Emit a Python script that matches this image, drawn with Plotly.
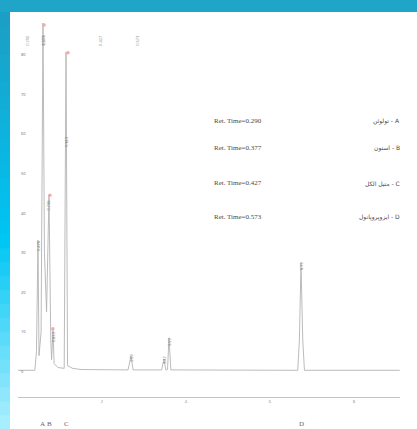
import plotly.graph_objects as go

# ---- data ----
times = [0.0, 0.40, 0.44, 0.476, 0.50, 0.55, 0.595, 0.63, 0.68, 0.738, 0.78, 0.80, 0.833, 0.86,
         0.95, 1.10, 1.143, 1.18, 1.30, 1.50, 2.62, 2.69, 2.74, 3.42, 3.476, 3.52, 3.56, 3.595,
         3.64, 6.66, 6.70, 6.738, 6.78, 6.82, 9.09]
signal = [0.3, 0.3, 5, 33.2, 4, 10, 88, 30, 15, 44.6, 8, 3, 10.5, 2,
          1, 0.8, 80.7, 1.5, 0.8, 0.5, 0.4, 3.9, 0.4, 0.4, 3.2, 0.4, 0.5, 8.5,
          0.4, 0.3, 8, 27.4, 8, 0.3, 0.3]

peak_times = [0.476, 0.595, 0.738, 0.833, 1.143, 2.69, 3.476, 3.595, 6.738]
peak_label_y = [30.0, 82.0, 40.0, 7.0, 56.0, 2.0, 1.5, 6.0, 25.0]
peak_labels = ["0.476", "0.595", "0.738", "0.833", "1.143", "2.69", "3.47", "3.59", "6.73"]

top_label_times = [0.21, 0.595, 1.95, 2.83]
top_labels = ["0.290", "0.377", "0.427", "0.573"]

marker_times = [0.62, 1.19, 0.76, 0.83]
marker_vals = [87.5, 80.5, 44.5, 10.8]

ret_texts = ["Ret. Time=0.290", "Ret. Time=0.377", "Ret. Time=0.427", "Ret. Time=0.573"]
compound_texts = ["تولوئن - A", "استون - B", "متیل الکل - C", "ایزوپروپانول - D"]
row_pix_y = [121, 148, 183, 217]

bottom_letters = ["A", "B", "C", "D"]
bottom_times = [0.595, 0.738, 1.143, 6.738]

x_ticks = [0, 2, 4, 6, 8]
y_ticks = [0, 10, 20, 30, 40, 50, 60, 70, 80]

# ---- geometry ----
W, H = 417, 429
L, R, T, B = 18, 17, 18, 32
PW, PH = W - L - R, H - T - B


def px(xp):
    return (xp - L) / PW


def py(yp):
    return 1 - (yp - T) / PH


fig = go.Figure()
fig.add_trace(go.Scatter(x=times, y=signal, mode="lines",
                         line=dict(color="#b3b3b3", width=0.9), hoverinfo="skip"))
fig.add_trace(go.Scatter(x=marker_times, y=marker_vals, mode="markers",
                         marker=dict(color="#f5aaaa", size=3.5, line=dict(width=0)),
                         hoverinfo="skip"))

shapes = []
# top teal strip
shapes.append(dict(type="rect", xref="paper", yref="paper", x0=px(0), x1=px(W), y0=py(12), y1=py(0),
                   fillcolor="#1ea5c8", line=dict(width=0), layer="below"))
# left gradient strip
n = 30
c0 = (0x1c, 0x9f, 0xc6)
c1 = (0x00, 0xc6, 0xf4)
c2 = (0xa8, 0xee, 0xff)
for i in range(n):
    t = i / (n - 1)
    if t < 0.55:
        u = t / 0.55
        c = tuple(int(c0[k] + (c1[k] - c0[k]) * u) for k in range(3))
    else:
        u = (t - 0.55) / 0.45
        c = tuple(int(c1[k] + (c2[k] - c1[k]) * u) for k in range(3))
    y0 = 12 + (H - 12) * i / n
    y1 = 12 + (H - 12) * (i + 1) / n + 1
    shapes.append(dict(type="rect", xref="paper", yref="paper", x0=px(0), x1=px(10),
                       y0=py(y1), y1=py(y0), fillcolor="rgb(%d,%d,%d)" % c,
                       line=dict(width=0), layer="below"))

ann = []
for t, yl, s in zip(peak_times, peak_label_y, peak_labels):
    ann.append(dict(x=t, y=yl, xref="x", yref="y", text=s, textangle=-90, showarrow=False,
                    xanchor="center", yanchor="bottom", font=dict(size=4, color="#777777")))
for t, s in zip(top_label_times, top_labels):
    ann.append(dict(x=t, y=py(40), xref="x", yref="paper", text=s, textangle=-90, showarrow=False,
                    xanchor="center", yanchor="middle", font=dict(size=4, color="#888888")))
for s, c, yy in zip(ret_texts, compound_texts, row_pix_y):
    ann.append(dict(x=px(212), y=py(yy), xref="paper", yref="paper", text=s, showarrow=False,
                    xanchor="left", yanchor="middle",
                    font=dict(family="Liberation Serif", size=7, color="#4a4a4a")))
    ann.append(dict(x=px(402), y=py(yy), xref="paper", yref="paper", text=c, showarrow=False,
                    xanchor="right", yanchor="middle",
                    font=dict(family="DejaVu Sans", size=6, color="#4a4a4a")))
for s, t in zip(bottom_letters, bottom_times):
    ann.append(dict(x=t, y=py(424), xref="x", yref="paper", text=s, showarrow=False,
                    xanchor="center", yanchor="middle",
                    font=dict(family="Liberation Serif", size=7, color="#666666")))

fig.update_layout(
    width=W, height=H,
    margin=dict(l=L, r=R, t=T, b=B, pad=0),
    paper_bgcolor="white", plot_bgcolor="rgba(0,0,0,0)",
    showlegend=False,
    shapes=shapes, annotations=ann,
    xaxis=dict(range=[0, PW / 42.0], tickvals=x_ticks, ticktext=[str(v) for v in x_ticks],
               showgrid=False, zeroline=False, showline=True, linecolor="#c4c4c4", linewidth=1,
               ticks="", tickfont=dict(size=4, color="#888888")),
    yaxis=dict(range=[-(397 - 371.5) / 3.96, (371.5 - 18) / 3.96], tickvals=y_ticks,
               ticktext=[str(v) for v in y_ticks], ticklabelposition="inside",
               showgrid=False, zeroline=False, showline=False, ticks="",
               tickfont=dict(size=4, color="#666666")),
)

fig.write_html("out.html", include_plotlyjs=True, config={"displayModeBar": False},
               post_script="document.body.style.margin='0';document.body.style.overflow='hidden';")
